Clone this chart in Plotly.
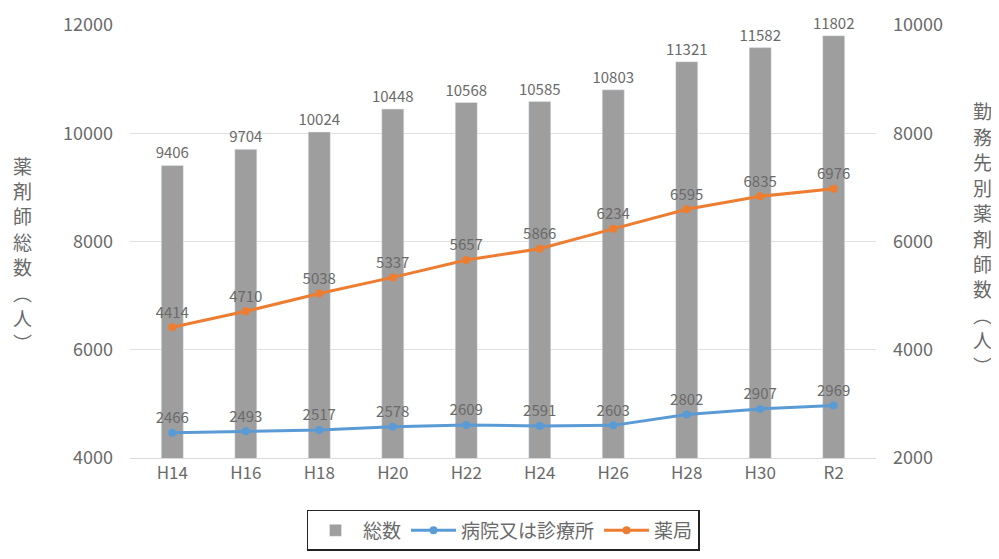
import plotly.graph_objects as go

categories = ["H14", "H16", "H18", "H20", "H22", "H24", "H26", "H28", "H30", "R2"]
total = [9406, 9704, 10024, 10448, 10568, 10585, 10803, 11321, 11582, 11802]
hospital = [2466, 2493, 2517, 2578, 2609, 2591, 2603, 2802, 2907, 2969]
pharmacy = [4414, 4710, 5038, 5337, 5657, 5866, 6234, 6595, 6835, 6976]
left_title_chars = ["薬", "剤", "師", "総", "数", "︵", "人", "︶"]
right_title_chars = ["勤", "務", "先", "別", "薬", "剤", "師", "数", "︵", "人", "︶"]

FONT = "Noto Sans CJK JP"
TXT = "#6a6a6a"

# page has an 8px body margin; figure sized to fit the 999x559 window
OFF = 8
W, H = 999 - OFF, 559 - OFF
ML, MT = 130 - OFF, 25 - OFF
MR = W - (876 - OFF)
MB = H - (458 - OFF)
PW, PH = W - ML - MR, H - MT - MB

fig = go.Figure()
fig.add_trace(go.Bar(
    x=categories, y=total, name="総数", marker_color="#9e9e9e",
    text=[str(v) for v in total], textposition="outside", constraintext="none",
    textfont=dict(size=15, color=TXT, family=FONT), cliponaxis=False,
))
fig.add_trace(go.Scatter(
    x=categories, y=hospital, name="病院又は診療所", yaxis="y2",
    mode="lines+markers+text", line=dict(color="#5B9BD5", width=3),
    marker=dict(size=8, color="#5B9BD5"),
    text=[str(v) for v in hospital], textposition="top center",
    textfont=dict(size=15, color=TXT, family=FONT),
))
fig.add_trace(go.Scatter(
    x=categories, y=pharmacy, name="薬局", yaxis="y2",
    mode="lines+markers+text", line=dict(color="#ED7D31", width=3),
    marker=dict(size=8, color="#ED7D31"),
    text=[str(v) for v in pharmacy], textposition="top center",
    textfont=dict(size=15, color=TXT, family=FONT),
))

annotations = []
def vertical_title(chars, px, py0, step):
    for i, ch in enumerate(chars):
        fx = px - OFF
        fy = py0 + i * step - OFF
        annotations.append(dict(
            text=ch, x=(fx - ML) / PW, y=1 - (fy - MT) / PH,
            xref="paper", yref="paper", xanchor="center", yanchor="middle",
            showarrow=False, font=dict(size=19, color=TXT, family=FONT)))

vertical_title(left_title_chars, 23, 165, 25.4)
vertical_title(right_title_chars, 982, 111, 25.4)

fig.update_layout(
    width=W, height=H,
    margin=dict(l=ML, r=MR, t=MT, b=MB, autoexpand=False),
    paper_bgcolor="white", plot_bgcolor="white",
    font=dict(family=FONT, color=TXT),
    bargap=0.7,
    showlegend=True,
    legend=dict(orientation="h", x=0.5, xanchor="center", y=-0.12, yanchor="top",
                bordercolor="#222222", borderwidth=1.5,
                font=dict(size=19, color=TXT, family=FONT),
                itemwidth=45),
    xaxis=dict(tickfont=dict(size=17, color=TXT), showline=True,
               linecolor="#d9d9d9", ticks="", showgrid=False),
    yaxis=dict(range=[4000, 12000], dtick=2000, showgrid=True, gridcolor="#e0e0e0",
               tickformat="d",
               tickfont=dict(size=18, color=TXT), zeroline=False, ticklabelstandoff=16),
    yaxis2=dict(range=[2000, 10000], dtick=2000, overlaying="y", side="right",
                tickformat="d",
                showgrid=False, tickfont=dict(size=18, color=TXT), zeroline=False,
                ticklabelstandoff=16),
    annotations=annotations,
)

fig.write_html("out.html")
